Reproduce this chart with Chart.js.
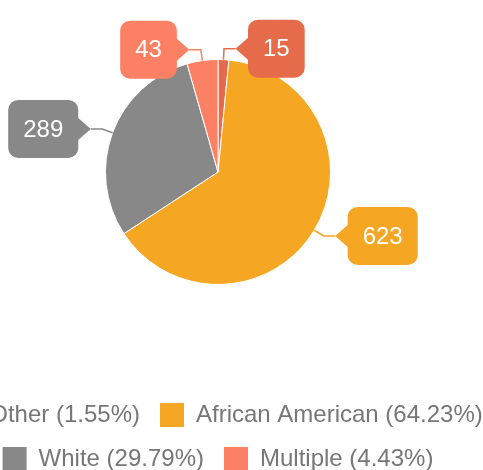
<!DOCTYPE html>
<html>
<head>
<meta charset="utf-8">
<script src="https://cdn.jsdelivr.net/npm/chart.js@4.4.1/dist/chart.umd.min.js"></script>
<style>
  html, body { margin: 0; padding: 0; overflow: hidden; background: #fff; }
  body { width: 483px; height: 470px; position: relative; }
  /* el lienzo es más ancho que la ventana: la leyenda se sale por la izquierda */
  #wrap { position: absolute; left: -82px; top: -39px; width: 600px; height: 520px; }
</style>
</head>
<body>
<div id="wrap"><canvas id="pieChart"></canvas></div>
<script>
const categories = ['Other', 'African American', 'White', 'Multiple'];
const counts = [15, 623, 289, 43];
const sliceColors = ['#E56B4B', '#F5A623', '#888888', '#FC8063'];

const FONT = '"Liberation Sans", Arial, sans-serif';
const total = counts.reduce((a, b) => a + b, 0);

function pct(v) {
    return (v / total * 100).toFixed(2) + '%';
}

// Caja redondeada con el pico en el origen, apuntando a la izquierda
function calloutPath(ctx, depth, w, h, r, halfBase) {
    const left = depth, right = depth + w, top = -h / 2, bottom = h / 2;
    ctx.beginPath();
    ctx.moveTo(left + r, top);
    ctx.lineTo(right - r, top);
    ctx.arcTo(right, top, right, top + r, r);
    ctx.lineTo(right, bottom - r);
    ctx.arcTo(right, bottom, right - r, bottom, r);
    ctx.lineTo(left + r, bottom);
    ctx.arcTo(left, bottom, left, bottom - r, r);
    ctx.lineTo(left, halfBase);
    ctx.lineTo(0, 0);
    ctx.lineTo(left, -halfBase);
    ctx.lineTo(left, top + r);
    ctx.arcTo(left, top, left + r, top, r);
    ctx.closePath();
}

const calloutPlugin = {
    id: 'callouts',
    afterDatasetsDraw(chart) {
        const ctx = chart.ctx;
        const meta = chart.getDatasetMeta(0);
        ctx.save();
        ctx.font = '24px ' + FONT;
        meta.data.forEach((arc, i) => {
            const { x, y, startAngle, endAngle, outerRadius } =
                arc.getProps(['x', 'y', 'startAngle', 'endAngle', 'outerRadius'], true);
            const mid = (startAngle + endAngle) / 2;
            const cos = Math.cos(mid), sin = Math.sin(mid);
            const x0 = x + cos * outerRadius, y0 = y + sin * outerRadius;
            const x1 = x + cos * (outerRadius + 11), y1 = y + sin * (outerRadius + 11);
            const dir = cos >= 0 ? 1 : -1;
            const tipX = x1 + dir * 11.5;
            const color = sliceColors[i];

            // línea guía
            ctx.strokeStyle = color;
            ctx.lineWidth = 1.5;
            ctx.beginPath();
            ctx.moveTo(x0, y0);
            ctx.lineTo(x1, y1);
            ctx.lineTo(tipX, y1);
            ctx.stroke();

            const text = String(counts[i]);
            const tw = ctx.measureText(text).width;
            const w = tw + 30, depth = 12.5;

            ctx.save();
            ctx.translate(tipX, y1);
            if (dir < 0) ctx.scale(-1, 1);
            calloutPath(ctx, depth, w, 58, 10, 11);
            ctx.fillStyle = color;
            ctx.fill();
            ctx.restore();

            ctx.fillStyle = '#fff';
            ctx.textAlign = 'center';
            ctx.textBaseline = 'middle';
            ctx.fillText(text, tipX + dir * (depth + w / 2), y1 + 1);
        });
        ctx.restore();
    }
};

new Chart(document.getElementById('pieChart'), {
    type: 'pie',
    data: {
        labels: categories,
        datasets: [{
            data: counts,
            backgroundColor: sliceColors,
            borderColor: '#fff',
            borderWidth: 1,
            radius: 112.5
        }]
    },
    options: {
        responsive: true,
        maintainAspectRatio: false,
        animation: false,
        plugins: {
            legend: {
                position: 'bottom',
                labels: {
                    font: { family: FONT, size: 24 },
                    color: '#777',
                    boxWidth: 24,
                    boxHeight: 24,
                    padding: 20,
                    useBorderRadius: true,
                    borderRadius: 2,
                    generateLabels: () => categories.map((c, i) => ({
                        text: c + ' (' + pct(counts[i]) + ')',
                        fillStyle: sliceColors[i],
                        strokeStyle: sliceColors[i],
                        lineWidth: 0,
                        fontColor: '#777',
                        hidden: false,
                        index: i
                    }))
                }
            },
            tooltip: { enabled: false }
        }
    },
    plugins: [calloutPlugin]
});
</script>
</body>
</html>
